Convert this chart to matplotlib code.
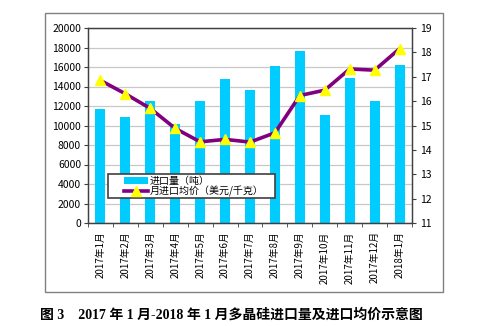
import numpy as np
import matplotlib.pyplot as plt
from matplotlib.patches import Rectangle

plt.rcParams['font.family'] = ['Noto Sans CJK SC', 'DejaVu Sans']

months = ['2017年1月', '2017年2月', '2017年3月', '2017年4月', '2017年5月',
          '2017年6月', '2017年7月', '2017年8月', '2017年9月', '2017年10月',
          '2017年11月', '2017年12月', '2018年1月']
volume = [11700, 10900, 12500, 10200, 12500, 14750, 13650,
          16100, 17600, 11100, 14900, 12500, 16200]
price = [16.85, 16.3, 15.7, 14.88, 14.33, 14.43, 14.32,
         14.7, 16.23, 16.45, 17.32, 17.27, 18.15]

fig = plt.figure(figsize=(4.84, 3.26), dpi=100)
# outer frame
fig.patches.append(Rectangle((45 / 484, 1 - 292 / 326), 398 / 484, 279 / 326,
                             transform=fig.transFigure, fill=False,
                             edgecolor='#808080', linewidth=1.0))

ax = fig.add_axes([88 / 484, 1 - 223 / 326, 324 / 484, 195 / 326])
ind = np.arange(len(months))
bars = ax.bar(ind, volume, 0.4, color='#00CCFF', zorder=2)
ax.set_xlim(-0.5, len(months) - 0.5)
ax.set_ylim(0, 20000)
ax.set_yticks(np.arange(0, 20001, 2000))
ax.yaxis.grid(True, color='#c8c8c8', linewidth=0.9, zorder=0)
ax.set_axisbelow(True)
ax.set_xticks(ind)
ax.set_xticklabels(months, rotation=90, fontsize=7)
ax.tick_params(axis='x', length=0, pad=6)
ax.set_xticks(np.arange(-0.5, len(months)), minor=True)
ax.tick_params(axis='x', which='minor', length=3, color='#404040')
ax.tick_params(axis='y', labelsize=7.5, length=3, color='#404040', pad=2)
for s in ax.spines.values():
    s.set_color('#404040')
    s.set_linewidth(0.9)

ax2 = ax.twinx()
line, = ax2.plot(ind, price, color='#800080', linewidth=2.6,
                 marker='^', markersize=7, markerfacecolor='#FFFF00',
                 markeredgecolor='#FFFF00', zorder=3)
ax2.set_ylim(11, 19)
ax2.set_yticks(np.arange(11, 20, 1))
ax2.tick_params(axis='y', labelsize=7.5, length=3, color='#404040', pad=3)
for s in ax2.spines.values():
    s.set_color('#404040')
    s.set_linewidth(0.9)

# legend box drawn by hand (wide padding in the original)
ax2.add_patch(Rectangle((0.062, 0.128), 0.515, 0.122, transform=ax2.transAxes,
                        facecolor='white', edgecolor='#404040',
                        linewidth=1.2, zorder=4))
leg = ax2.legend([bars, line], ['进口量（吨）', '月进口均价（美元/千克）'],
                 loc='lower left', bbox_to_anchor=(0.112, 0.132),
                 fontsize=7.2, frameon=False,
                 borderpad=0, labelspacing=0.0, handlelength=2.4,
                 handletextpad=0.15, borderaxespad=0)
leg.set_zorder(5)

fig.text(40 / 484, 1 - 315 / 326,
         '图 3    2017 年 1 月-2018 年 1 月多晶硅进口量及进口均价示意图',
         family=['Liberation Serif', 'Noto Sans CJK SC'],
         fontsize=10, fontweight='bold', ha='left', va='center')

fig.savefig('out.png', dpi=100)
